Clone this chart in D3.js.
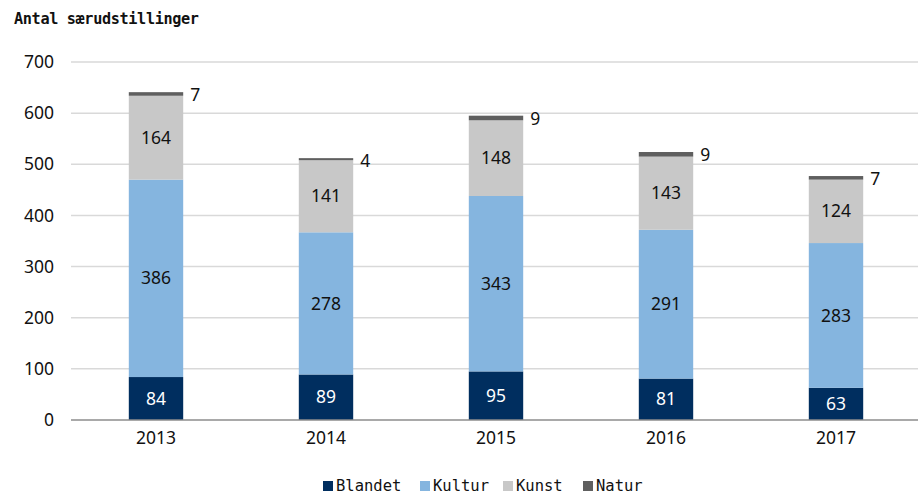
<!DOCTYPE html>
<html>
<head>
<meta charset="utf-8">
<script src="https://cdn.jsdelivr.net/npm/d3@7"></script>
<style>
body{margin:0;background:#fff;}
svg{display:block;font-family:"Noto Sans",sans-serif;}
</style>
</head>
<body>
<svg id="chart" width="918" height="497"></svg>
<script>
// data
var years = ["2013","2014","2015","2016","2017"];
var blandet = [84,89,95,81,63];
var kultur = [386,278,343,291,283];
var kunst = [164,141,148,143,124];
var natur = [7,4,9,9,7];
var seriesNames = ["Blandet","Kultur","Kunst","Natur"];
var yTicks = [0,100,200,300,400,500,600,700];

var colors = {"Blandet":"#002e5f","Kultur":"#85b5df","Kunst":"#c8c8c8","Natur":"#5f5f5f"};

var svg = d3.select("#chart");

var rows = years.map(function(y,i){
	return {year:y,Blandet:blandet[i],Kultur:kultur[i],Kunst:kunst[i],Natur:natur[i]};
});

var x = d3.scaleBand().domain(years).range([71,921]).paddingInner(0.68).paddingOuter(0.34);
var yScale = d3.scaleLinear().domain([0,700]).range([420,62]);

// grid
svg.append("g").selectAll("line")
	.data(yTicks.slice(1))
	.enter().append("line")
	.attr("x1",71).attr("x2",918)
	.attr("y1",function(d){return yScale(d);})
	.attr("y2",function(d){return yScale(d);})
	.attr("stroke","#d9d9d9").attr("stroke-width",1.5);

var yAxis = d3.axisLeft(yScale).tickValues(yTicks).tickSize(0).tickPadding(17);
svg.append("g")
	.attr("transform","translate(71,0)")
	.call(yAxis)
	.call(function(g){g.select(".domain").remove();})
	.selectAll("text")
	.attr("font-family","Noto Sans")
	.attr("font-size",17.5)
	.attr("fill","#111");

var stack = d3.stack().keys(seriesNames);
var stacked = stack(rows);

var layers = svg.append("g").selectAll("g")
	.data(stacked)
	.enter().append("g")
	.attr("fill",function(d){return colors[d.key];});

layers.selectAll("rect")
	.data(function(d){return d;})
	.enter().append("rect")
	.attr("x",function(d){return x(d.data.year);})
	.attr("width",x.bandwidth())
	.attr("y",function(d){return yScale(d[1]);})
	.attr("height",function(d){return yScale(d[0])-yScale(d[1]);});

// labels
stacked.forEach(function(layer){
	svg.append("g").selectAll("text")
		.data(layer)
		.enter().append("text")
		.attr("x",function(d){
			if(layer.key=="Natur"){return x(d.data.year)+x.bandwidth()+7;}
			return x(d.data.year)+x.bandwidth()/2;
		})
		.attr("y",function(d){
			if(layer.key=="Natur"){return yScale(d[1])+3;}
			return yScale((d[0]+d[1])/2);
		})
		.attr("dy","0.35em")
		.attr("text-anchor",layer.key=="Natur"?"start":"middle")
		.attr("font-size",17.5)
		.attr("fill",layer.key=="Blandet"?"#fff":"#111")
		.text(function(d){return d.data[layer.key];});
});

// x axis
var xAxis = d3.axisBottom(x).tickSize(0).tickPadding(12);
svg.append("g")
	.attr("transform","translate(0,420)")
	.call(xAxis)
	.call(function(g){g.select(".domain").attr("d","M71,0H918").attr("stroke","#8c8c8c").attr("stroke-width",1.5);})
	.selectAll("text")
	.attr("font-family","Noto Sans")
	.attr("font-size",17.5)
	.attr("fill","#111");

// title
svg.append("text")
	.attr("x",14).attr("y",24)
	.attr("font-family","DejaVu Sans Mono")
	.attr("font-weight","bold")
	.attr("font-size",15.2)
	.attr("textLength",185)
	.attr("fill","#111")
	.text("Antal særudstillinger");

// legend
var legendX = [323,420,503,583];
var legend = svg.append("g").selectAll("g")
	.data(seriesNames)
	.enter().append("g")
	.attr("transform",function(d,i){return "translate("+legendX[i]+",486)";});
legend.append("rect")
	.attr("x",0).attr("y",-5).attr("width",10).attr("height",10)
	.attr("fill",function(d){return colors[d];});
legend.append("text")
	.attr("x",13).attr("dy","0.35em")
	.attr("font-family","DejaVu Sans Mono")
	.attr("font-size",15.5)
	.attr("fill","#111")
	.text(function(d){return d;});
</script>
</body>
</html>
